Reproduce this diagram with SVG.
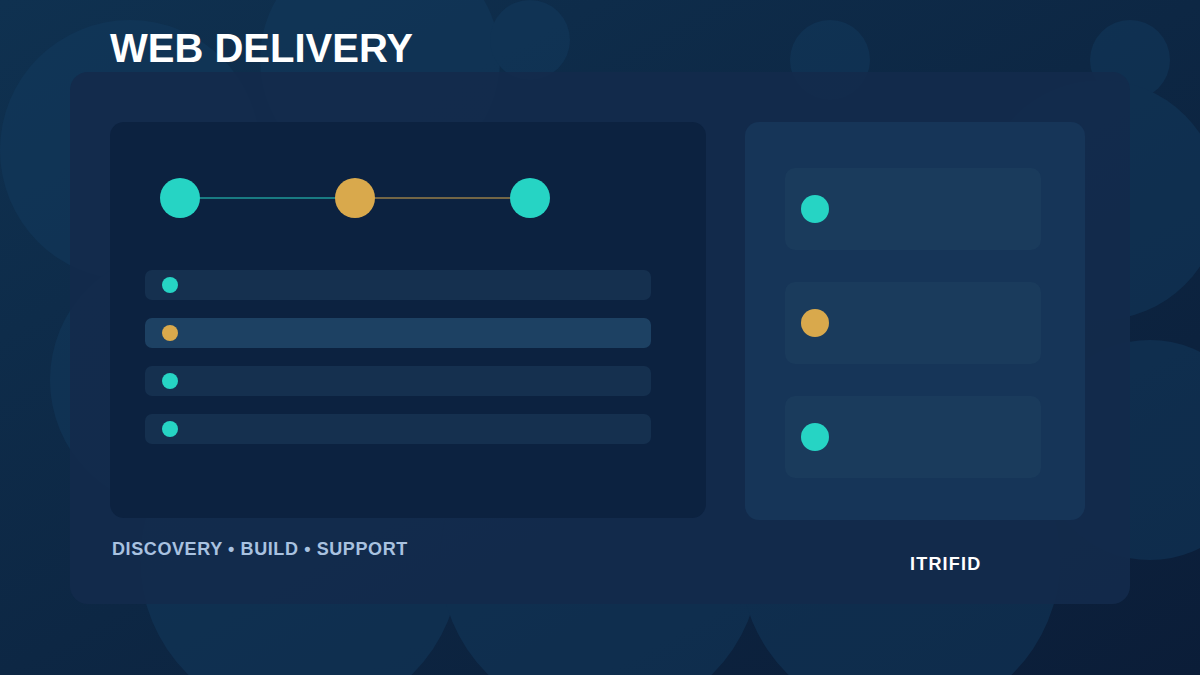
<svg xmlns="http://www.w3.org/2000/svg" width="1200" height="675" viewBox="0 0 1200 675">
<defs>
<linearGradient id="bg" x1="0" y1="0" x2="1" y2="1"><stop offset="0" stop-color="#0f3150"/><stop offset="1" stop-color="#0b1d38"/></linearGradient>
<style>
.t{font-family:"Liberation Sans",Arial,sans-serif;font-weight:bold}
.row{fill:#15304f}
.card{fill:#1a3b5c}
.teal{fill:#26d4c4}
.gold{fill:#d9a94c}
</style>
</defs>
<rect width="1200" height="675" fill="url(#bg)"/>
<g fill="#123a5e" opacity="0.5">
<circle cx="130" cy="150" r="130"/><circle cx="380" cy="60" r="120"/><circle cx="530" cy="40" r="40"/><circle cx="830" cy="60" r="40"/><circle cx="1130" cy="60" r="40"/><circle cx="1100" cy="200" r="120"/><circle cx="1150" cy="450" r="110"/><circle cx="180" cy="380" r="130"/><circle cx="300" cy="560" r="160"/><circle cx="600" cy="560" r="160"/><circle cx="900" cy="560" r="160"/>
</g>
<rect x="70" y="72" width="1060" height="532" rx="18" fill="#132b4b" opacity="0.94"/>
<text class="t" x="110" y="62" font-size="40" fill="#ffffff">WEB DELIVERY</text>
<g id="panel-left">
<rect x="110" y="122" width="596" height="396" rx="14" fill="#0c2240"/>
</g>
<g id="connectors">
<line x1="180" y1="198" x2="355" y2="198" stroke="#26d4c4" stroke-width="1.2"/>
<line x1="355" y1="198" x2="530" y2="198" stroke="#d9a94c" stroke-width="1.2"/>
</g>
<g id="node-1"><circle class="teal" cx="180" cy="198" r="20"/></g>
<g id="node-2"><circle class="gold" cx="355" cy="198" r="20"/></g>
<g id="node-3"><circle class="teal" cx="530" cy="198" r="20"/></g>
<g id="row-1"><rect class="row" x="145" y="270" width="506" height="30" rx="7"/><circle class="teal" cx="170" cy="285" r="8"/></g>
<g id="row-2"><rect x="145" y="318" width="506" height="30" rx="7" fill="#1d4163"/><circle class="gold" cx="170" cy="333" r="8"/></g>
<g id="row-3"><rect class="row" x="145" y="366" width="506" height="30" rx="7"/><circle class="teal" cx="170" cy="381" r="8"/></g>
<g id="row-4"><rect class="row" x="145" y="414" width="506" height="30" rx="7"/><circle class="teal" cx="170" cy="429" r="8"/></g>
<g id="panel-right"><rect x="745" y="122" width="340" height="398" rx="14" fill="#163558"/></g>
<g id="card-1"><rect class="card" x="785" y="168" width="256" height="82" rx="10"/><circle class="teal" cx="815" cy="209" r="14"/></g>
<g id="card-2"><rect class="card" x="785" y="282" width="256" height="82" rx="10"/><circle class="gold" cx="815" cy="323" r="14"/></g>
<g id="card-3"><rect class="card" x="785" y="396" width="256" height="82" rx="10"/><circle class="teal" cx="815" cy="437" r="14"/></g>
<text class="t" x="112" y="555" font-size="18" fill="#a9c2e0" letter-spacing="0.6">DISCOVERY • BUILD • SUPPORT</text>
<text class="t" x="910" y="570" font-size="18" fill="#ffffff" letter-spacing="1.2">ITRIFID</text>
</svg>
